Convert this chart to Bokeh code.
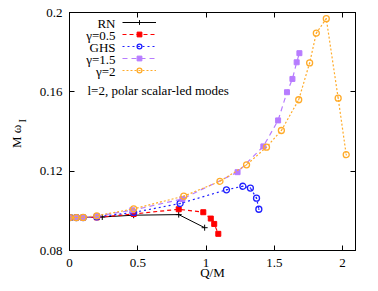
from bokeh.plotting import figure
from bokeh.models import (Range1d, FixedTicker, LinearAxis, Label, Legend, LegendItem)
from bokeh.embed import file_html
from bokeh.resources import INLINE
import math

# ---- data ----
rn_x = [0.0, 0.02, 0.04, 0.24, 0.47, 0.80, 0.99]
rn_y = [0.0966, 0.0966, 0.0966, 0.0969, 0.0978, 0.0981, 0.0915]

g05_x = [0.0, 0.05, 0.1, 0.2, 0.47, 0.80, 0.98, 1.035, 1.06, 1.09]
g05_y = [0.0966, 0.0966, 0.0966, 0.0967, 0.0984, 0.1008, 0.0993, 0.0961, 0.0934, 0.0884]

ghs_x = [0.0, 0.05, 0.1, 0.2, 0.47, 0.81, 1.15, 1.27, 1.325, 1.37, 1.387]
ghs_y = [0.0966, 0.0966, 0.0966, 0.0970, 0.0992, 0.1037, 0.1106, 0.1124, 0.1115, 0.1064, 0.1008]

g15_x = [0.0, 0.05, 0.1, 0.2, 0.46, 0.827, 1.231, 1.42, 1.528, 1.593, 1.633, 1.664, 1.684]
g15_y = [0.0966, 0.0966, 0.0966, 0.0974, 0.1003, 0.1060, 0.1195, 0.1325, 0.1456, 0.1598, 0.1665, 0.1749, 0.1795]

g2_x = [0.0, 0.05, 0.1, 0.2, 0.47, 0.837, 1.102, 1.297, 1.443, 1.552, 1.679, 1.759, 1.808, 1.881, 1.968, 2.027]
g2_y = [0.0966, 0.0966, 0.0967, 0.0975, 0.1010, 0.1074, 0.1149, 0.1232, 0.1321, 0.1405, 0.1560, 0.1746, 0.1896, 0.1969, 0.1568, 0.1283]

series_names = ["RN", "\u03b3=0.5", "GHS", "\u03b3=1.5", "\u03b3=2"]

x_ticks = [0, 0.5, 1, 1.5, 2]
x_tick_labels = ["0", "0.5", "1", "1.5", "2"]
y_ticks = [0.08, 0.12, 0.16, 0.2]
y_tick_labels = ["0.08", "0.12", "0.16", "0.2"]

x_label = "Q/M"
y_label_main = "M \u03c9"
y_label_sub = "I"
note_text = "l=2, polar scalar-led modes"

FONT = "Liberation Serif"
FS = "13px"

W, H = 370, 283
FRAME_LEFT, FRAME_RIGHT, FRAME_TOP, FRAME_BOTTOM = 69, 355, 12, 250
p = figure(width=W, height=H, output_backend="svg", toolbar_location=None,
           x_range=Range1d(0, 2.095), y_range=Range1d(0.08, 0.2),
           min_border_left=FRAME_LEFT, min_border_right=W - FRAME_RIGHT,
           min_border_top=FRAME_TOP, min_border_bottom=H - FRAME_BOTTOM)
p.xgrid.visible = False
p.ygrid.visible = False
p.outline_line_color = "black"
p.outline_line_width = 1
p.background_fill_color = "white"
p.border_fill_color = "white"

def style_axis(ax, ticks, labels, show_labels=True, standoff=7):
    ax.ticker = FixedTicker(ticks=ticks)
    ax.major_label_overrides = {t: l for t, l in zip(ticks, labels)}
    ax.major_tick_in = 5
    ax.major_tick_out = 0
    ax.minor_tick_in = 0
    ax.minor_tick_out = 0
    ax.axis_line_color = "black"
    ax.major_tick_line_color = "black"
    ax.major_label_text_font = FONT
    ax.major_label_text_color = "black"
    ax.axis_label_text_font = FONT
    ax.axis_label_text_font_size = FS
    ax.axis_label_text_font_style = "normal"
    ax.axis_label_text_color = "black"
    if show_labels:
        ax.major_label_text_font_size = FS
        ax.major_label_standoff = standoff
    else:
        ax.major_label_text_font_size = "0px"
        ax.major_label_standoff = 0

xa = p.xaxis[0]
style_axis(xa, x_ticks, x_tick_labels, standoff=8)
xa.axis_label = x_label
xa.axis_label_standoff_mode = "axis"
xa.axis_label_standoff = 14

ya = p.yaxis[0]
style_axis(ya, y_ticks, y_tick_labels, standoff=7)
# trailing non-collapsing spaces leave room for the subscript
ya.axis_label = y_label_main + "\u00a0\u2002"
ya.axis_label_standoff_mode = "axis"
ya.axis_label_standoff = 46

top_ax = LinearAxis()
style_axis(top_ax, x_ticks, x_tick_labels, show_labels=False)
p.add_layout(top_ax, "above")
right_ax = LinearAxis()
style_axis(right_ax, y_ticks, y_tick_labels, show_labels=False)
p.add_layout(right_ax, "right")

# subscript of the y-axis title, placed from the right side panel
p.add_layout(Label(x=22 - FRAME_RIGHT, y=FRAME_BOTTOM - 122, x_units="screen", y_units="screen",
                   text=y_label_sub, text_font=FONT, text_font_size="10px", text_align="left",
                   text_baseline="alphabetic", angle=math.pi / 2, text_color="black"), "right")

# ---- series ----
l_rn = p.line(rn_x, rn_y, line_color="black", line_width=1)
s_rn = p.scatter(rn_x, rn_y, marker="cross", size=6, line_color="black", line_width=1)

red = "#ff0000"
l_g05 = p.line(g05_x, g05_y, line_color=red, line_width=1.2, line_dash="4 3")
s_g05 = p.scatter(g05_x, g05_y, marker="square", size=5, fill_color=red, line_color=red)

blue = "#2020ff"
l_ghs = p.line(ghs_x, ghs_y, line_color=blue, line_width=1.2, line_dash="2 3")
s_ghs = p.scatter(ghs_x, ghs_y, marker="circle_dot", size=6, fill_color=None, line_color=blue, line_width=1.3)

purple = "#b77cff"
l_g15 = p.line(g15_x, g15_y, line_color=purple, line_width=1.2, line_dash="5 4")
s_g15 = p.scatter(g15_x, g15_y, marker="square", size=5, fill_color=purple, line_color=purple)

orange = "#ffab2a"
l_g2 = p.line(g2_x, g2_y, line_color=orange, line_width=1.2, line_dash="2 2")
s_g2 = p.scatter(g2_x, g2_y, marker="circle_dot", size=6, fill_color=None, line_color=orange, line_width=1.3)

renderer_pairs = [(l_rn, s_rn), (l_g05, s_g05), (l_ghs, s_ghs), (l_g15, s_g15), (l_g2, s_g2)]

# legend samples (glyphs only), labels drawn right-aligned to the left of them
row_h = 12
first_row = FRAME_BOTTOM - 22.5  # frame-relative y of the first row centre
legend = Legend(items=[LegendItem(label=" ", renderers=list(rp)) for rp in renderer_pairs],
                location=(53, int(round(first_row + row_h / 2 - 5 * row_h))),
                padding=0, margin=0, spacing=0,
                glyph_width=34, glyph_height=row_h, label_height=row_h, label_width=1,
                label_standoff=0, label_text_font_size="1px",
                border_line_color=None, background_fill_alpha=0)
p.add_layout(legend, "center")

for i, name in enumerate(series_names):
    p.add_layout(Label(x=46, y=first_row - i * row_h, x_units="screen", y_units="screen",
                       text=name, text_font=FONT, text_font_size=FS, text_align="right",
                       text_baseline="middle", text_color="black"))

p.add_layout(Label(x=18, y=160, x_units="screen", y_units="screen", text=note_text,
                   text_font=FONT, text_font_size=FS, text_align="left",
                   text_baseline="middle", text_color="black"))

open("out.html", "w").write(file_html(p, INLINE))
